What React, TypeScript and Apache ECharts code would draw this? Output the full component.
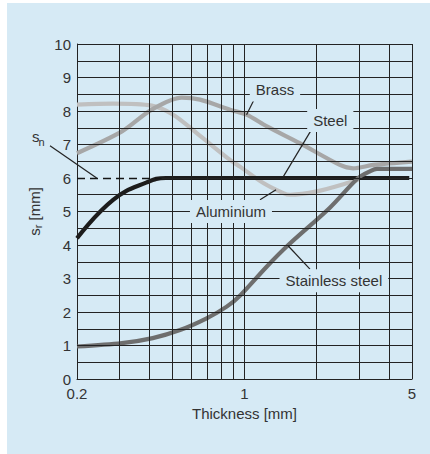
import React, { useEffect, useRef } from "react";
import * as echarts from "echarts";

// ---- data ----
const xTickLabels = [0.2, 1, 5];
const yTickLabels = [0, 1, 2, 3, 4, 5, 6, 7, 8, 9, 10];
const xGridLines = [0.3, 0.4, 0.5, 0.6, 0.7, 0.8, 0.9, 1, 2, 3, 4, 5];
const yGridLines = [0.5, 1, 1.5, 2, 2.5, 3, 3.5, 4, 4.5, 5, 5.5, 6.5, 7, 7.5, 8, 8.5, 9, 9.5, 10];
const nominalS = 6; // s_n
const nominalDashEnd = 0.45;

const brassX = [0.2, 0.308, 0.41, 0.547, 0.652, 0.87, 1.02, 1.24, 1.7, 2.5, 2.84, 3.45, 5];
const brassY = [6.74, 7.39, 8.04, 8.4, 8.34, 8.04, 7.89, 7.54, 7.04, 6.39, 6.29, 6.39, 6.49];

const aluX = [0.2, 0.283, 0.41, 0.504, 0.632, 0.87, 0.957, 1.198, 1.452, 1.55, 2.0, 2.84, 2.98];
const aluY = [8.19, 8.22, 8.16, 7.89, 7.34, 6.54, 6.34, 5.85, 5.55, 5.5, 5.6, 5.9, 5.95];

const steelX = [0.2, 0.283, 0.391, 0.47, 0.6, 4.87];
const steelY = [4.2, 5.35, 5.87, 6.0, 6.0, 6.0];

const stainlessX = [0.2, 0.308, 0.414, 0.538, 0.695, 0.843, 0.964, 1.24, 1.523, 2.26, 2.98, 3.34, 3.57, 5];
const stainlessY = [0.97, 1.07, 1.22, 1.46, 1.81, 2.16, 2.51, 3.36, 4.0, 5.1, 6.0, 6.2, 6.27, 6.27];

const annotations = [
  { text: "Brass", at: [1.34, 8.63], from: [1.124, 8.49], to: [1.02, 7.89] },
  { text: "Steel", at: [2.28, 7.72], from: [1.94, 7.54], to: [1.452, 6.04] },
  { text: "Aluminium", at: [0.878, 5.0], from: [1.161, 5.35], to: [1.354, 5.65] },
  { text: "Stainless steel", at: [2.36, 2.93], from: [1.876, 3.28], to: [1.523, 3.97] },
];

const BG = "#d6eaf5";
const GRIDC = "#232323";
const TXT = "#333333";
const FONT = "'Liberation Sans', Arial, sans-serif";

const zip = (xs: number[], ys: number[]) => xs.map((x, i) => [x, ys[i]]);

export default function App() {
  const ref = useRef<HTMLDivElement>(null);
  useEffect(() => {
    const chart = echarts.init(ref.current!, undefined, { renderer: "svg" });
    const curve = (name: string, xs: number[], ys: number[], color: string, smooth = 0.3) => ({
      name,
      type: "line",
      data: zip(xs, ys),
      smooth,
      showSymbol: false,
      symbol: "none",
      z: 2,
      lineStyle: { color, width: 4.2, cap: "butt" },
      emphasis: { disabled: true },
    });
    const gridMarks: any[] = [];
    xGridLines.forEach((v) => gridMarks.push({ xAxis: v }));
    yGridLines.forEach((v) => gridMarks.push({ yAxis: v }));
    gridMarks.push([{ coord: [nominalDashEnd, nominalS] }, { coord: [5, nominalS] }]);
    gridMarks.push([
      { coord: [0.2, nominalS], lineStyle: { type: [8, 5], color: "#151515", width: 1.4 } },
      { coord: [nominalDashEnd, nominalS] },
    ]);

    chart.setOption({
      animation: false,
      textStyle: { fontFamily: FONT },
      grid: { left: 70, top: 41, width: 335, height: 335, containLabel: false },
      xAxis: {
        type: "log",
        logBase: 10,
        min: 0.2,
        max: 5,
        axisLine: { show: true, lineStyle: { color: GRIDC, width: 1 } },
        axisTick: { show: false },
        splitLine: { show: false },
        minorSplitLine: { show: false },
        axisLabel: {
          customValues: xTickLabels,
          formatter: (v: number) => String(v),
          color: TXT,
          fontSize: 15,
          margin: 7,
          fontFamily: FONT,
        },
        name: "Thickness [mm]",
        nameLocation: "middle",
        nameGap: 23,
        nameTextStyle: { color: TXT, fontSize: 15, fontFamily: FONT },
      },
      yAxis: {
        type: "value",
        min: 0,
        max: 10,
        interval: 1,
        axisLine: { show: true, lineStyle: { color: GRIDC, width: 1 } },
        axisTick: { show: false },
        splitLine: { show: false },
        axisLabel: {
          formatter: (v: number) => (yTickLabels.includes(v) ? String(v) : ""),
          color: TXT,
          fontSize: 15,
          margin: 6,
          fontFamily: FONT,
        },
        name: "{m|s}{sub|r}{m| [mm]}",
        nameLocation: "middle",
        nameRotate: 90,
        nameGap: 26,
        nameTextStyle: {
          color: TXT,
          fontFamily: FONT,
          rich: {
            m: { fontSize: 15, color: TXT, fontFamily: FONT },
            sub: { fontSize: 11, color: TXT, fontFamily: FONT, padding: [7, 0, 0, 0] },
          },
        },
      },
      series: [
        {
          name: "grid",
          type: "line",
          data: [[0.2, 0]],
          showSymbol: false,
          symbol: "none",
          lineStyle: { width: 0 },
          z: 1,
          silent: true,
          markLine: {
            silent: true,
            symbol: ["none", "none"],
            label: { show: false },
            emphasis: { disabled: true },
            lineStyle: { color: GRIDC, width: 1, type: "solid" },
            data: gridMarks,
          },
        },
        curve("Aluminium", aluX, aluY, "#c0c0c0"),
        curve("Brass", brassX, brassY, "#a7a7a7"),
        curve("Steel", steelX, steelY, "#1c1c1c", 0.45),
        curve("Stainless steel", stainlessX, stainlessY, "#6e6e6e"),
      ],
    });

    const px = (p: number[]) => chart.convertToPixel({ gridIndex: 0 }, p) as number[];
    const graphics: any[] = [];
    annotations.forEach((a) => {
      const c = px(a.at);
      const f = px(a.from);
      const t = px(a.to);
      graphics.push({
        type: "line",
        z: 9,
        shape: { x1: f[0], y1: f[1], x2: t[0], y2: t[1] },
        style: { stroke: GRIDC, lineWidth: 1.2 },
        silent: true,
      });
      graphics.push({
        type: "text",
        z: 10,
        x: c[0],
        y: c[1],
        silent: true,
        style: {
          text: a.text,
          fill: TXT,
          fontSize: 15,
          fontFamily: FONT,
          align: "center",
          verticalAlign: "middle",
          backgroundColor: BG,
          padding: [4, 6],
        },
      });
    });
    // s_n label with leader to the nominal dashed line
    const nEnd = px([0.2416, nominalS]);
    graphics.push({
      type: "line",
      z: 9,
      silent: true,
      shape: { x1: 43, y1: 142.7, x2: nEnd[0], y2: nEnd[1] },
      style: { stroke: GRIDC, lineWidth: 1.2 },
    });
    graphics.push({
      type: "text",
      z: 10,
      silent: true,
      x: 25,
      y: 133.5,
      style: { text: "s", fill: TXT, fontSize: 15, fontFamily: FONT, align: "left", verticalAlign: "middle" },
    });
    graphics.push({
      type: "text",
      z: 10,
      silent: true,
      x: 31.5,
      y: 138.5,
      style: { text: "n", fill: TXT, fontSize: 11, fontFamily: FONT, align: "left", verticalAlign: "middle" },
    });
    chart.setOption({ graphic: graphics });

    return () => chart.dispose();
  }, []);
  return (
    <div style={{ position: "fixed", left: 0, top: 0, width: 430, height: 454, background: "#ffffff" }}>
      <div
        ref={ref}
        style={{ position: "absolute", left: 7, top: 3, width: 423, height: 451, background: BG }}
      />
    </div>
  );
}
